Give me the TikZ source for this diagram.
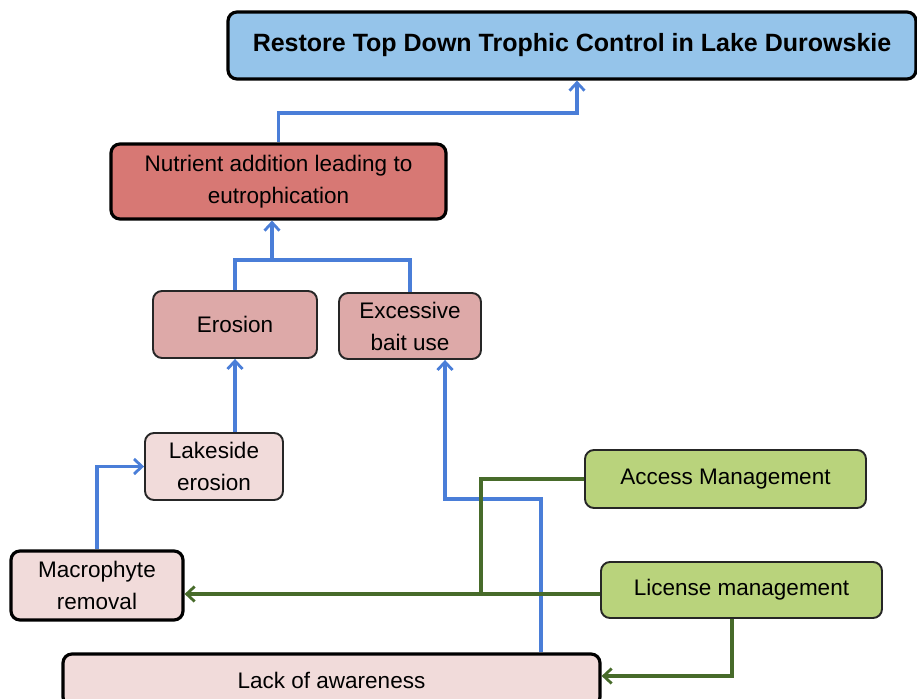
\documentclass[tikz,border=0pt]{standalone}
\usepackage{fontspec}
\setmainfont{Liberation Sans}
\usetikzlibrary{arrows.meta}
\definecolor{goalblue}{HTML}{95C4EA}
\definecolor{corered}{HTML}{D77874}
\definecolor{midred}{HTML}{DDA9A8}
\definecolor{lightred}{HTML}{F1DBDA}
\definecolor{actgreen}{HTML}{B9D37C}
\definecolor{linkblue}{HTML}{4A7ED8}
\definecolor{linkgreen}{HTML}{476B2A}
\tikzset{
  box/.style={rectangle, rounded corners=9pt, draw=black!85, line width=1.9pt,
    align=center, inner sep=0pt, font=\fontsize{22.5}{32}\selectfont},
  heavy/.style={line width=3.2pt, draw=black},
  bluelink/.style={draw=linkblue, line width=3.4pt},
  greenlink/.style={draw=linkgreen, line width=3.2pt},
  tip/.style={-{Straight Barb[length=8pt,width=15pt,line width=2.8pt]}},
}
\begin{document}
\begin{tikzpicture}[x=1pt,y=-1pt]
\useasboundingbox (0,0) rectangle (917,698);

% goal
\node[box, heavy, fill=goalblue, minimum width=688, minimum height=67,
  font=\fontsize{25}{30}\selectfont\bfseries] (goal) at (572,45.5)
  {Restore Top Down Trophic Control in Lake Durowskie};

% threats and drivers
\node[box, heavy, fill=corered, minimum width=335, minimum height=75] (nut) at (278.5,181.5)
  {Nutrient addition leading to\\eutrophication};
\node[box, fill=midred, minimum width=164, minimum height=67] (ero) at (235,324.5) {Erosion};
\node[box, fill=midred, minimum width=142, minimum height=66] (bait) at (410,326) {Excessive\\bait use};
\node[box, fill=lightred, minimum width=138, minimum height=67] (lake) at (214,466.5) {Lakeside\\erosion};
\node[box, heavy, fill=lightred, minimum width=172, minimum height=69] (macro) at (97,585.5) {Macrophyte\\removal};
\node[box, heavy, fill=lightred, minimum width=537, minimum height=52] (lack) at (331.5,680) {Lack of awareness};

% strategies
\node[box, fill=actgreen, minimum width=281, minimum height=58] (access) at (725.5,479) {Access Management};
\node[box, fill=actgreen, minimum width=281, minimum height=56] (license) at (741.5,590) {License management};

% routing points
\coordinate (j1) at (577,113);
\coordinate (j2) at (272,260);
\coordinate (k1) at (541,499);
\coordinate (k2) at (445,499);
\coordinate (m1) at (481,594);
\coordinate (m2) at (732,676);

% causal links
\draw[bluelink, tip] (nut.north) |- (j1) -- (goal.south -| j1);
\draw[bluelink] (ero.north) |- (j2) -| (bait.north);
\draw[bluelink, tip] (j2) -- (nut.south -| j2);
\draw[bluelink, tip] (lake.north -| ero.south) -- (ero.south);
\draw[bluelink, tip] (macro.north) |- (lake.west);
\draw[bluelink, tip] (lack.north -| k1) -- (k1) -- (k2) -- (bait.south -| k2);

% strategy links
\draw[greenlink] (access.west) -| (m1);
\draw[greenlink, tip] (license.west |- m1) -- (macro.east |- m1);
\draw[greenlink, tip] (license.south -| m2) -- (m2) -- (lack.east |- m2);
\end{tikzpicture}
\end{document}
